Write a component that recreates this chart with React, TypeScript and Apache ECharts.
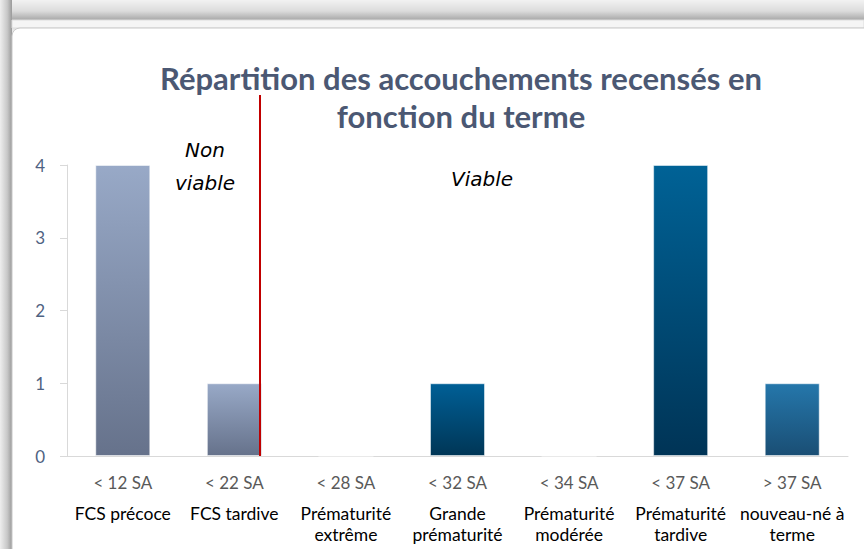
import React, { useEffect, useRef } from "react";
import * as echarts from "echarts";

const terms = ["< 12 SA", "< 22 SA", "< 28 SA", "< 32 SA", "< 34 SA", "< 37 SA", "> 37 SA"];
const names = [
  ["FCS précoce"],
  ["FCS tardive"],
  ["Prématurité", "extrême"],
  ["Grande", "prématurité"],
  ["Prématurité", "modérée"],
  ["Prématurité", "tardive"],
  ["nouveau-né à", "terme"],
];
const counts = [4, 1, 0, 1, 0, 4, 1];
const yTicks = [0, 1, 2, 3, 4];

const gradTop = ["#98a9c7", "#98a9c7", "#005f96", "#005f96", "#005f96", "#006296", "#2577ab"];
const gradBottom = ["#66728b", "#66728b", "#003656", "#003656", "#003656", "#003456", "#1a4e74"];

const narrow = "Lato, 'Open Sans', sans-serif";

export default function App() {
  const ref = useRef<HTMLDivElement>(null);
  useEffect(() => {
    if (!ref.current) return;
    const chart = echarts.init(ref.current, null, { renderer: "svg" });
    const cats = terms.map((t, i) => t + "|" + names[i].join("\n"));
    chart.setOption({
      animation: false,
      backgroundColor: "#e6e6e6",
      graphic: [
        {
          type: "rect",
          shape: { x: 0, y: 0, width: 864, height: 22 },
          style: {
            fill: new echarts.graphic.LinearGradient(0, 0, 0, 1, [
              { offset: 0, color: "#f2f2f2" },
              { offset: 0.5, color: "#dcdcdc" },
              { offset: 1, color: "#9c9c9c" },
            ]),
          },
          z: -10,
        },
        {
          type: "rect",
          shape: { x: 0, y: 0, width: 12, height: 549 },
          style: {
            fill: new echarts.graphic.LinearGradient(0, 0, 1, 0, [
              { offset: 0, color: "#eeeeee" },
              { offset: 0.6, color: "#c8c8c8" },
              { offset: 1, color: "#9a9a9a" },
            ]),
          },
          z: -9,
        },
        {
          type: "rect",
          shape: { x: 12, y: 20, width: 852, height: 8 },
          style: { fill: "#f5f5f5", stroke: "#dddddd", lineWidth: 1 },
          z: -8,
        },
        {
          type: "rect",
          shape: { x: 12, y: 28, width: 860, height: 530, r: 8 },
          style: { fill: "#ffffff", stroke: "#c8c8c8", lineWidth: 1 },
          z: -7,
        },
        {
          type: "line",
          shape: { x1: 260, y1: 95, x2: 260, y2: 456 },
          style: { stroke: "#c00000", lineWidth: 2 },
          z: 10,
        },
        {
          type: "text",
          x: 205,
          y: 166,
          style: {
            text: "Non\nviable",
            fontFamily: "'DejaVu Sans', sans-serif",
            fontStyle: "italic",
            fontSize: 20,
            lineHeight: 33,
            fill: "#000000",
            align: "center",
            verticalAlign: "middle",
          },
          z: 10,
        },
        {
          type: "text",
          x: 482,
          y: 179,
          style: {
            text: "Viable",
            fontFamily: "'DejaVu Sans', sans-serif",
            fontStyle: "italic",
            fontSize: 20,
            fill: "#000000",
            align: "center",
            verticalAlign: "middle",
          },
          z: 10,
        },
      ],
      title: {
        text: "Répartition des accouchements recensés en\nfonction du terme",
        left: 456,
        textAlign: "center",
        top: 54,
        textStyle: {
          fontFamily: narrow,
          fontWeight: "bold",
          fontSize: 31,
          lineHeight: 38,
          color: "#4b5873",
        },
      },
      grid: { left: 67, right: 16, top: 165, bottom: 93, containLabel: false },
      xAxis: {
        type: "category",
        data: cats,
        axisLine: { show: true, lineStyle: { color: "#d9d9d9", width: 1 } },
        axisTick: { show: false },
        axisLabel: {
          interval: 0,
          margin: 6,
          formatter: (v: string) => {
            const [t, n] = v.split("|");
            return "{a|" + t + "}\n" + n.split("\n").map((s) => "{b|" + s + "}").join("\n");
          },
          rich: {
            a: { fontFamily: narrow, fontSize: 17, color: "#595959", lineHeight: 41 },
            b: { fontFamily: narrow, fontSize: 17.5, color: "#000000", lineHeight: 21 },
          },
        },
      },
      yAxis: {
        type: "value",
        min: yTicks[0],
        max: yTicks[yTicks.length - 1],
        interval: 1,
        axisLine: { show: true, lineStyle: { color: "#d9d9d9", width: 1 } },
        axisTick: { show: true, length: 7, lineStyle: { color: "#d9d9d9" } },
        splitLine: { show: false },
        axisLabel: {
          margin: 22,
          fontFamily: narrow,
          fontSize: 17,
          color: "#4f6282",
        },
      },
      series: [
        {
          type: "bar",
          barWidth: 55,
          data: counts.map((v, i) => ({
            value: v,
            itemStyle: {
              color: new echarts.graphic.LinearGradient(0, 0, 0, 1, [
                { offset: 0, color: gradTop[i] },
                { offset: 1, color: gradBottom[i] },
              ]),
              borderColor: "rgba(255,255,255,0.5)",
              borderWidth: 1,
            },
          })),
        },
      ],
    });
    return () => chart.dispose();
  }, []);
  return <div ref={ref} style={{ width: 864, height: 549, position: "absolute", left: 0, top: 0 }} />;
}
